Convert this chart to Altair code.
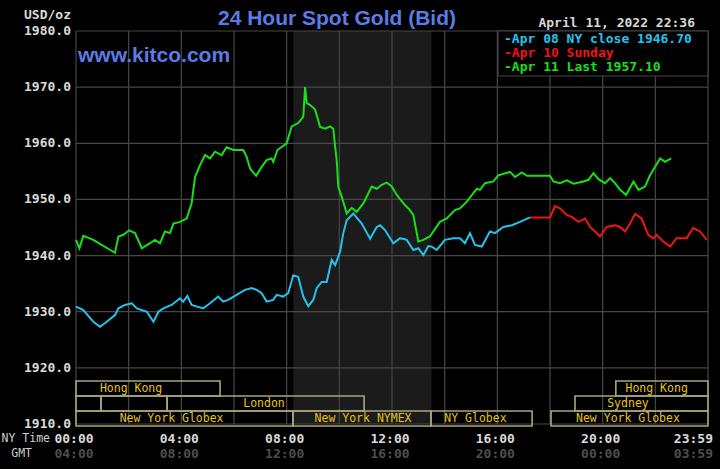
import altair as alt
import pandas as pd

# ---------------- data ----------------
green_t = [0.00, 0.13, 0.28, 0.66, 1.48, 1.61, 1.80, 2.02, 2.24, 2.50, 2.81, 3.00, 3.19, 3.38, 3.57, 3.70,
           3.95, 4.20, 4.39, 4.52, 4.71, 4.90, 5.09, 5.28, 5.53, 5.72, 5.97, 6.35, 6.48, 6.61, 6.84, 7.05,
           7.24, 7.43, 7.49, 7.65, 8.00, 8.19, 8.44, 8.63, 8.70, 8.76, 8.89, 9.08, 9.27, 9.46, 9.65, 9.77,
           9.84, 9.90, 9.96, 10.09, 10.28, 10.47, 10.66, 10.91, 11.23, 11.42, 11.61, 11.80, 11.99, 12.18,
           12.49, 12.68, 12.81, 13.00, 13.19, 13.44, 13.82, 14.08, 14.39, 14.58, 14.84, 15.22, 15.34, 15.53,
           15.85, 16.04, 16.48, 16.67, 16.93, 17.12, 18.00, 18.13, 18.38, 18.64, 18.89, 19.27, 19.46, 19.65,
           19.84, 20.09, 20.28, 20.47, 20.66, 20.89, 21.17, 21.36, 21.61, 21.80, 22.18, 22.37, 22.60]
green_v = [1942.8, 1941.3, 1943.5, 1942.8, 1940.5, 1943.4, 1943.7, 1944.5, 1944.0, 1941.3, 1942.2, 1942.8,
           1942.2, 1944.3, 1944.0, 1945.7, 1946.0, 1946.6, 1949.3, 1954.0, 1956.1, 1957.9, 1957.3, 1958.5,
           1957.9, 1959.3, 1958.8, 1958.8, 1957.6, 1955.5, 1954.2, 1955.8, 1957.0, 1957.3, 1956.7, 1958.8,
           1960.0, 1963.0, 1963.6, 1964.7, 1970.0, 1967.2, 1966.8, 1966.0, 1962.9, 1962.6, 1963.0, 1962.6,
           1959.4, 1957.0, 1952.3, 1950.5, 1947.5, 1948.5, 1947.8, 1949.3, 1952.3, 1951.9, 1952.6, 1953.0,
           1952.3, 1950.8, 1949.0, 1948.1, 1947.2, 1942.5, 1942.8, 1943.4, 1946.0, 1946.6, 1948.1, 1948.4,
           1949.6, 1951.9, 1951.7, 1952.9, 1953.2, 1954.3, 1954.9, 1954.0, 1954.8, 1954.2, 1954.2, 1953.2,
           1952.9, 1953.4, 1952.8, 1953.2, 1953.5, 1954.7, 1953.6, 1952.9, 1953.8, 1952.9, 1951.7, 1950.8,
           1953.2, 1951.7, 1952.3, 1954.3, 1957.3, 1956.7, 1957.3]

cyan_t = [0.00, 0.28, 0.66, 0.91, 1.17, 1.48, 1.61, 1.86, 2.12, 2.31, 2.69, 2.94, 3.13, 3.32, 3.63, 3.95,
          4.07, 4.23, 4.39, 4.83, 5.09, 5.40, 5.59, 5.78, 6.10, 6.42, 6.67, 6.86, 7.05, 7.24, 7.49, 7.62,
          7.87, 8.06, 8.25, 8.44, 8.63, 8.82, 9.01, 9.14, 9.33, 9.52, 9.71, 9.84, 10.03, 10.15, 10.28, 10.53,
          10.85, 11.17, 11.42, 11.55, 11.74, 12.05, 12.31, 12.56, 12.81, 13.00, 13.19, 13.38, 13.51, 13.70,
          14.01, 14.33, 14.58, 14.77, 14.96, 15.15, 15.41, 15.72, 15.91, 16.23, 16.55, 16.86, 17.24]
cyan_v = [1930.9, 1930.3, 1928.2, 1927.3, 1928.2, 1929.4, 1930.6, 1931.2, 1931.5, 1930.6, 1930.0, 1928.2,
          1930.0, 1930.6, 1931.2, 1932.4, 1931.8, 1932.8, 1931.2, 1930.6, 1931.5, 1932.7, 1931.8, 1932.1,
          1933.0, 1933.9, 1934.2, 1933.9, 1933.3, 1931.8, 1932.1, 1933.0, 1932.7, 1933.3, 1936.5, 1936.2,
          1932.7, 1931.0, 1932.1, 1934.2, 1935.3, 1935.3, 1939.2, 1938.3, 1940.7, 1944.0, 1946.3, 1947.5,
          1945.7, 1943.0, 1945.1, 1945.4, 1944.5, 1942.2, 1943.1, 1942.8, 1941.0, 1941.3, 1940.1, 1941.7,
          1941.6, 1941.0, 1942.8, 1943.1, 1943.1, 1942.2, 1944.0, 1941.9, 1941.6, 1944.3, 1944.0, 1945.1,
          1945.4, 1946.0, 1946.8]

red_t = [17.24, 18.00, 18.19, 18.38, 18.64, 18.83, 19.08, 19.33, 19.52, 19.71, 19.90, 20.15, 20.47, 20.66,
         20.85, 21.04, 21.23, 21.48, 21.73, 21.92, 22.05, 22.30, 22.56, 22.81, 23.19, 23.44, 23.70, 23.95]
red_v = [1946.8, 1946.8, 1948.8, 1948.4, 1947.2, 1946.9, 1946.0, 1946.6, 1945.1, 1944.3, 1943.4, 1945.1,
         1945.4, 1945.1, 1944.3, 1945.7, 1947.4, 1946.6, 1943.7, 1943.1, 1943.7, 1942.5, 1941.6, 1943.1,
         1943.1, 1944.9, 1944.3, 1942.8]

series_names = ["Apr 08 NY close 1946.70", "Apr 10 Sunday", "Apr 11 Last 1957.10"]
series_colors = ["#22C4EE", "#EE1515", "#18E018"]

price_ticks = [1910, 1920, 1930, 1940, 1950, 1960, 1970, 1980]
grid_hours = [0, 2, 4, 6, 8, 10, 12, 14, 16, 18, 20, 22, 24]
label_hours = [0, 4, 8, 12, 16, 20, 24]
ny_labels = ["00:00", "04:00", "08:00", "12:00", "16:00", "20:00", "23:59"]
gmt_labels = ["04:00", "08:00", "12:00", "16:00", "20:00", "00:00", "03:59"]

nymex_start, nymex_end = 8.25, 13.5

sess_names = ["Hong Kong", "Hong Kong", "", "", "London", "Sydney",
              "New York Globex", "New York NYMEX", "NY Globex", "New York Globex"]
sess_row = [1, 1, 2, 2, 2, 2, 3, 3, 3, 3]
sess_start = [0.0, 20.5, 0.0, 0.95, 3.46, 18.95, 0.0, 8.24, 13.48, 18.04]
sess_end = [5.47, 24.0, 0.95, 3.46, 10.94, 24.0, 8.24, 13.48, 17.32, 24.0]
sess_label_t = [2.09, 22.05, 0.5, 2.2, 7.14, 20.96, 3.63, 10.9, 15.17, 20.96]

date_text = "April 11, 2022 22:36"
title_text = "24 Hour Spot Gold (Bid)"

# ---------------- build ----------------
W, H = 632, 393
XS = alt.Scale(domain=[0, 24])
YS = alt.Scale(domain=[1910, 1980])
MONO = "DejaVu Sans Mono"
GRID = "#474747"

lines_df = pd.concat([
    pd.DataFrame({"t": cyan_t, "v": cyan_v, "s": series_names[0]}),
    pd.DataFrame({"t": red_t, "v": red_v, "s": series_names[1]}),
    pd.DataFrame({"t": green_t, "v": green_v, "s": series_names[2]}),
])

shade = alt.Chart(pd.DataFrame({"a": [nymex_start], "b": [nymex_end]})).mark_rect(color="#1b1b1b").encode(
    x=alt.X("a:Q", scale=XS, axis=None), x2="b:Q", y=alt.value(0), y2=alt.value(H))

vgrid = alt.Chart(pd.DataFrame({"h": grid_hours})).mark_rule(color=GRID, strokeWidth=1.2).encode(
    x=alt.X("h:Q", scale=XS, axis=None), y=alt.value(0), y2=alt.value(H))

hgrid = alt.Chart(pd.DataFrame({"p": price_ticks})).mark_rule(color=GRID, strokeWidth=1.2).encode(
    y=alt.Y("p:Q", scale=YS, axis=None), x=alt.value(0), x2=alt.value(W))

ylabels = alt.Chart(pd.DataFrame({"p": price_ticks})).mark_text(
    font=MONO, fontSize=13, fontWeight="bold", color="#DADADA", align="right", baseline="middle").encode(
    y=alt.Y("p:Q", scale=YS, axis=None), x=alt.value(-5), text=alt.Text("p:Q", format=".1f"))

xl_df = pd.DataFrame({"h": label_hours, "ny": ny_labels, "gmt": gmt_labels})
xl_mid = xl_df.iloc[:-1]
xl_end = xl_df.iloc[-1:]
ny_mid = alt.Chart(xl_mid).mark_text(font=MONO, fontSize=13, fontWeight="bold", color="#DADADA",
                                     align="center", baseline="middle", dx=-2).encode(
    x=alt.X("h:Q", scale=XS, axis=None), y=alt.value(408), text="ny:N")
gmt_mid = alt.Chart(xl_mid).mark_text(font=MONO, fontSize=13, fontWeight="bold", color="#4E4E4E",
                                      align="center", baseline="middle", dx=-2).encode(
    x=alt.X("h:Q", scale=XS, axis=None), y=alt.value(423), text="gmt:N")
ny_end = alt.Chart(xl_end).mark_text(font=MONO, fontSize=13, fontWeight="bold", color="#DADADA",
                                     align="right", baseline="middle", dx=5).encode(
    x=alt.X("h:Q", scale=XS, axis=None), y=alt.value(408), text="ny:N")
gmt_end = alt.Chart(xl_end).mark_text(font=MONO, fontSize=13, fontWeight="bold", color="#4E4E4E",
                                      align="right", baseline="middle", dx=5).encode(
    x=alt.X("h:Q", scale=XS, axis=None), y=alt.value(423), text="gmt:N")

sess_df = pd.DataFrame({"name": sess_names, "row": sess_row, "a": sess_start, "b": sess_end,
                        "lt": sess_label_t})
sess_box = alt.Chart(sess_df).mark_rect(fill="transparent", fillOpacity=0, stroke="#A9A77A",
                                        strokeWidth=1.6).transform_calculate(
    y0="350 + (datum.row - 1) * 15", y1="365 + (datum.row - 1) * 15").encode(
    x=alt.X("a:Q", scale=XS, axis=None), x2="b:Q",
    y=alt.Y("y0:Q", scale=None, axis=None), y2="y1:Q")
sess_txt = alt.Chart(sess_df).mark_text(font=MONO, fontSize=11.5, color="#E6C21A",
                                        align="center", baseline="middle").transform_calculate(
    ym="357.5 + (datum.row - 1) * 15").encode(
    x=alt.X("lt:Q", scale=XS, axis=None), y=alt.Y("ym:Q", scale=None, axis=None), text="name:N")

lines = alt.Chart(lines_df).mark_line(strokeWidth=2).encode(
    x=alt.X("t:Q", scale=XS, axis=None),
    y=alt.Y("v:Q", scale=YS, axis=None),
    color=alt.Color("s:N", scale=alt.Scale(domain=series_names, range=series_colors), legend=None),
    detail="s:N")

legend_box = alt.Chart(pd.DataFrame({"k": [0]})).mark_rect(fill="#000000", stroke=GRID, strokeWidth=1.2).encode(
    x=alt.value(422), x2=alt.value(W), y=alt.value(0), y2=alt.value(45))

legend_layers = []
for i, (nm, col) in enumerate(zip(series_names, series_colors)):
    legend_layers.append(
        alt.Chart(pd.DataFrame({"txt": ["-" + nm]})).mark_text(
            font=MONO, fontSize=13, fontWeight="bold", color=col, align="left", baseline="middle").encode(
            x=alt.value(428), y=alt.value(8 + i * 14.2), text="txt:N"))

def label(txt, x, y, **kw):
    return alt.Chart(pd.DataFrame({"txt": [txt]})).mark_text(**kw).encode(
        x=alt.value(x), y=alt.value(y), text="txt:N")

title = label(title_text, 261, -6.5, font="Liberation Sans", fontSize=21, fontWeight="bold",
              color="#5A7CE6", align="center", baseline="alphabetic")
kitco = label("www.kitco.com", 2, 31, font="Liberation Sans", fontSize=21, fontWeight="bold",
              color="#5A7CE6", align="left", baseline="alphabetic")
date = label(date_text, 619, -4, font=MONO, fontSize=13, fontWeight="bold", color="#D8D8D8",
             align="right", baseline="alphabetic")
usd = label("USD/oz", -5, -16, font=MONO, fontSize=13, fontWeight="bold", color="#D8D8D8",
            align="right", baseline="middle")
nyt = label("NY Time", -26, 408, font=MONO, fontSize=11.5, color="#CFCFCF", align="right", baseline="middle")
gmt = label("GMT", -44, 423, font=MONO, fontSize=11.5, color="#CFCFCF", align="right", baseline="middle")

chart = alt.layer(
    shade, vgrid, hgrid, sess_box, sess_txt, lines, legend_box, *legend_layers,
    ylabels, ny_mid, gmt_mid, ny_end, gmt_end, title, kitco, date, usd, nyt, gmt
).resolve_scale(y="independent").properties(
    width=W, height=H,
    padding={"left": 76, "top": 31, "right": 12, "bottom": 45},
    autosize=alt.AutoSizeParams(type="none"),
    background="#000000",
).configure_view(stroke=None)

chart.save("out.html", embed_options={"renderer": "svg", "actions": False})
